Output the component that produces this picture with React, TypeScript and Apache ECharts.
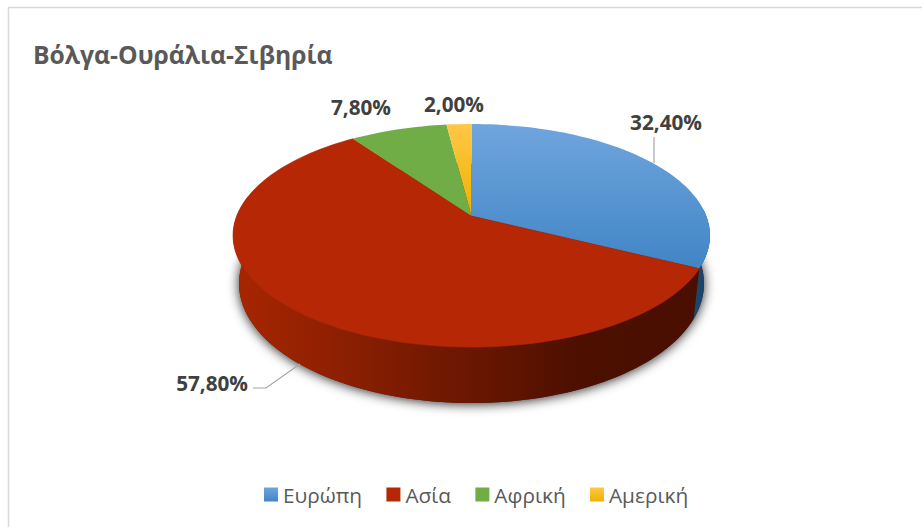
import React, { useEffect, useRef } from "react";
import * as echarts from "echarts";

const categories = ["Ευρώπη", "Ασία", "Αφρική", "Αμερική"];
const values = [32.4, 57.8, 7.8, 2.0];
const titleText = "Βόλγα-Ουράλια-Σιβηρία";

const topFills: any[] = [
  { type: "linear", x: 0, y: 0, x2: 0, y2: 1, colorStops: [{ offset: 0, color: "#70a5dd" }, { offset: 1, color: "#4085c6" }] },
  "#b52705",
  "#70ad47",
  { type: "linear", x: 0, y: 0, x2: 0, y2: 1, colorStops: [{ offset: 0, color: "#ffc746" }, { offset: 1, color: "#eeb200" }] },
];
const labelAnchors: any[] = [
  { x: 666, y: 122, align: "center" },
  { x: 248, y: 383, align: "right" },
  { x: 361, y: 107, align: "center" },
  { x: 454, y: 104, align: "center" },
];
const leaders: number[][][] = [
  [[654, 137], [654, 163]],
  [[253, 388], [266, 388], [300, 364]],
  [],
  [],
];

// perspective projection of the pie's top disc
const CX = 471.5;
const CY = 216;
const K = 0.175;
const A = 108.1;
const B = 234.8;
const rim = (pct: number) => {
  const t = (pct / 100) * Math.PI * 2;
  const u = Math.sin(t);
  const v = -Math.cos(t);
  const w = 1 - K * v;
  return [CX + (B * u) / w, CY + (A * v) / w];
};
const low = (p: number[]) => [CX + (p[0] - CX) * 0.975, 283.5 + (p[1] - 235.5) * 1.072];

const arc = (from: number, to: number, f = (p: number[]) => p) => {
  const pts: number[][] = [];
  const n = Math.max(4, Math.ceil(Math.abs(to - from) * 2));
  for (let i = 0; i <= n; i++) pts.push(f(rim(from + ((to - from) * i) / n)));
  return pts;
};

const total = values.reduce((a, b) => a + b, 0);
const starts = values.map((_, i) => (values.slice(0, i).reduce((a, b) => a + b, 0) / total) * 100);

const wallFills: any[] = [
  { type: "linear", x: 0, y: 0, x2: 1, y2: 0, colorStops: [{ offset: 0, color: "#1c4a72" }, { offset: 1, color: "#1a3d5e" }] },
  {
    type: "linear", x: 0, y: 0, x2: 1, y2: 0,
    colorStops: [
      { offset: 0, color: "#a82600" },
      { offset: 0.25, color: "#8a1f02" },
      { offset: 0.5, color: "#6b1701" },
      { offset: 0.75, color: "#4c0f00" },
      { offset: 1, color: "#4a0f00" },
    ],
  },
];
// Portions of the rim (in percent) whose wall faces the viewer
const wallRange = [[24, 32.4], [32.4, 78]];

const renderSlice = (i: number) => (_params: any, api: any) => {
  const value = api.value(0);
  const from = starts[i];
  const to = from + (value / total) * 100;
  const children: any[] = [];
  if (i === 0) {
    children.push({
      type: "polygon",
      shape: { points: arc(0, 100, low) },
      style: { fill: "#3a2a20", shadowBlur: 12, shadowColor: "rgba(0,0,0,0.85)", shadowOffsetY: 1 },
    });
  }
  if (wallRange[i]) {
    const [a, b] = wallRange[i];
    children.push({
      type: "polygon",
      shape: { points: [...arc(a, b), ...arc(b, a, low)] },
      style: { fill: wallFills[i] },
    });
  }
  children.push({
    type: "polygon",
    shape: { points: [[CX, CY], ...arc(from, to)] },
    style: { fill: topFills[i], stroke: i === 1 ? "#b52705" : undefined, lineWidth: i === 1 ? 0.6 : 0 },
  });
  if (leaders[i].length) {
    children.push({
      type: "polyline",
      shape: { points: leaders[i] },
      style: { fill: "none", stroke: "#a6a6a6", lineWidth: 1.2 },
    });
  }
  const a = labelAnchors[i];
  children.push({
    type: "text",
    x: a.x,
    y: a.y,
    style: {
      text: value.toFixed(2).replace(".", ",") + "%",
      fill: "#404040",
      font: "bold 20.7px 'Open Sans'",
      align: a.align,
      verticalAlign: "middle",
    },
  });
  return { type: "group", children };
};

export default function App() {
  const ref = useRef<HTMLDivElement>(null);
  useEffect(() => {
    const chart = echarts.init(ref.current!, undefined, { renderer: "svg" });
    chart.setOption({
      animation: false,
      backgroundColor: "#ffffff",
      title: {
        text: titleText,
        left: 28,
        top: 37,
        textStyle: { fontFamily: "Open Sans", fontWeight: "bold", fontSize: 24.7, color: "#595959" },
      },
      legend: {
        left: 259,
        top: 479,
        itemWidth: 14,
        itemHeight: 14,
        itemGap: 24.3,
        icon: "rect",
        selectedMode: false,
        textStyle: { fontFamily: "Open Sans", fontSize: 20.8, color: "#595959" },
        data: categories.map((name, i) => ({ name, itemStyle: { color: topFills[i] } })),
      },
      graphic: [
        { type: "line", silent: true, shape: { x1: 8, y1: 7.5, x2: 922, y2: 7.5 }, style: { stroke: "#d9d9d9", lineWidth: 1.5 } },
        { type: "line", silent: true, shape: { x1: 8.5, y1: 7, x2: 8.5, y2: 527 }, style: { stroke: "#d9d9d9", lineWidth: 1.5 } },
      ],
      series: categories.map((name, i) => ({
        type: "custom",
        name,
        coordinateSystem: "none",
        silent: true,
        z: 2 + i,
        itemStyle: { color: "#70a5dd" },
        data: [[values[i]]],
        renderItem: renderSlice(i),
      })),
    });
    return () => chart.dispose();
  }, []);
  return <div ref={ref} style={{ position: "fixed", left: 0, top: 0, width: 922, height: 527 }} />;
}
